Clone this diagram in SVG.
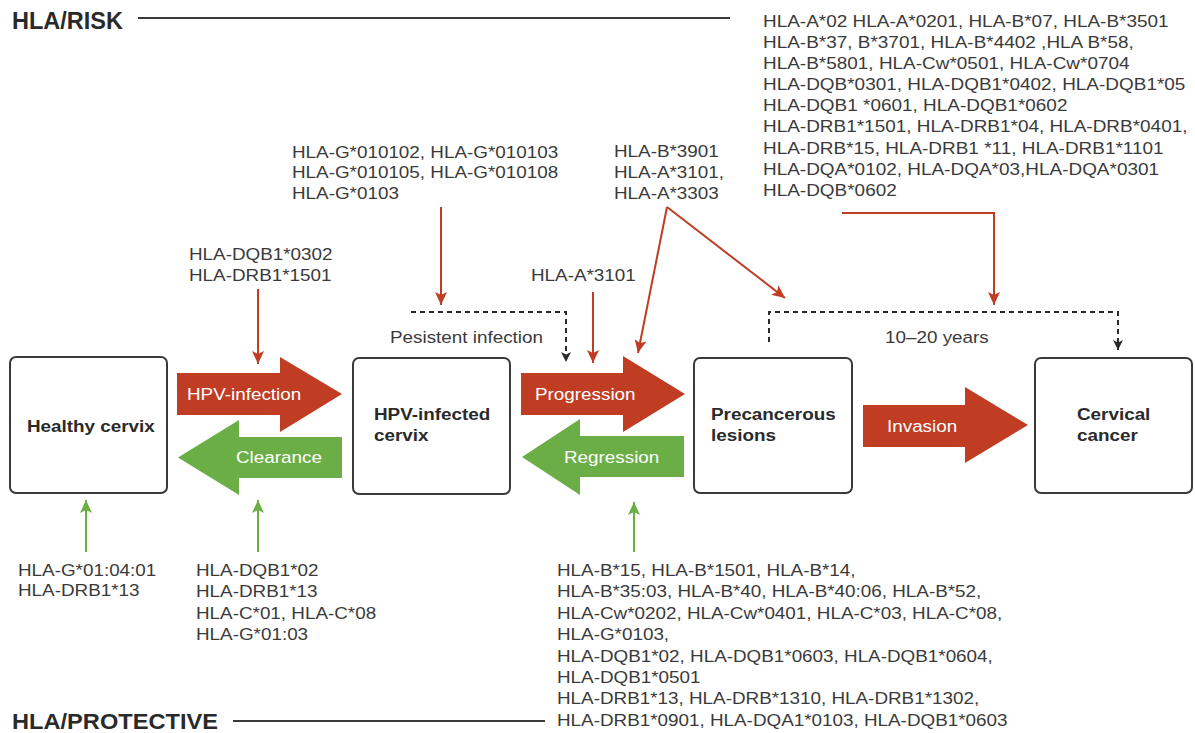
<svg xmlns="http://www.w3.org/2000/svg" width="1195" height="733" viewBox="0 0 1195 733">
<style>
  .t{font-family:"Liberation Sans",Arial,sans-serif;font-size:17px;fill:#3a3a3a;}
  .b{font-family:"Liberation Sans",Arial,sans-serif;font-size:17px;font-weight:bold;fill:#2a2a2a;}
  .w{font-family:"Liberation Sans",Arial,sans-serif;font-size:17px;fill:#ffffff;}
  .h{font-family:"Liberation Sans",Arial,sans-serif;font-weight:bold;fill:#2a2a2a;}
  .box{fill:#ffffff;stroke:#3a3a3a;stroke-width:2;}
  .red{fill:#c03d24;}
  .grn{fill:#6aae45;}
  .rl{fill:none;stroke:#c03d24;stroke-width:2;}
  .gl{fill:none;stroke:#6aae45;stroke-width:2;}
  .dl{fill:none;stroke:#2a2a2a;stroke-width:2;stroke-dasharray:5 4;}
  .rule{stroke:#3a3a3a;stroke-width:2;}
</style>
<defs>
  <marker id="mr" markerUnits="userSpaceOnUse" markerWidth="14" markerHeight="12" refX="13" refY="6" orient="auto">
    <path d="M0,0 L13,6 L0,12 L3,6 z" fill="#c03d24"/>
  </marker>
  <marker id="mg" markerUnits="userSpaceOnUse" markerWidth="14" markerHeight="12" refX="13" refY="6" orient="auto">
    <path d="M0,0 L13,6 L0,12 L3,6 z" fill="#6aae45"/>
  </marker>
  <marker id="mk" markerUnits="userSpaceOnUse" markerWidth="11" markerHeight="10" refX="10" refY="5" orient="auto">
    <path d="M0,0 L10,5 L0,10 L2.5,5 z" fill="#2a2a2a"/>
  </marker>
</defs>
<rect width="1195" height="733" fill="#ffffff"/>

<g id="headers">
  <text class="h" x="12" y="29" font-size="23" textLength="111" lengthAdjust="spacingAndGlyphs">HLA/RISK</text>
  <line class="rule" x1="138" y1="18" x2="730" y2="18"/>
  <text class="h" x="12" y="729" font-size="22" textLength="206" lengthAdjust="spacingAndGlyphs">HLA/PROTECTIVE</text>
  <line class="rule" x1="233" y1="721" x2="545" y2="721"/>
</g>

<g id="node-healthy">
  <rect class="box" x="10" y="357" width="157" height="136" rx="6"/>
  <text class="b" transform="translate(27,432) scale(1.11 1)">Healthy cervix</text>
</g>
<g id="node-hpv">
  <rect class="box" x="353" y="358" width="157" height="136" rx="6"/>
  <text class="b" transform="translate(374,420) scale(1.11 1)"><tspan x="0" y="0">HPV-infected</tspan><tspan x="0" y="21">cervix</tspan></text>
</g>
<g id="node-precancer">
  <rect class="box" x="694" y="358" width="158" height="135" rx="6"/>
  <text class="b" transform="translate(711,420) scale(1.11 1)"><tspan x="0" y="0">Precancerous</tspan><tspan x="0" y="21">lesions</tspan></text>
</g>
<g id="node-cancer">
  <rect class="box" x="1035" y="358" width="157" height="135" rx="6"/>
  <text class="b" transform="translate(1077,420) scale(1.11 1)"><tspan x="0" y="0">Cervical</tspan><tspan x="0" y="21">cancer</tspan></text>
</g>

<g id="transitions">
  <g id="arrow-hpv-infection">
    <polygon class="red" points="177,373 280,373 280,357 342,394 280,432 280,415 177,415"/>
    <text class="w" transform="translate(187,400) scale(1.11 1)">HPV-infection</text>
  </g>
  <g id="arrow-clearance">
    <polygon class="grn" points="342,437 239,437 239,420 178,457.5 239,495 239,478 342,478"/>
    <text class="w" transform="translate(236,463) scale(1.11 1)">Clearance</text>
  </g>
  <g id="arrow-progression">
    <polygon class="red" points="521,373 623,373 623,356 685,394 623,432 623,415 521,415"/>
    <text class="w" transform="translate(535,400) scale(1.11 1)">Progression</text>
  </g>
  <g id="arrow-regression">
    <polygon class="grn" points="684,436 580,436 580,419 522,457 580,495 580,477 684,477"/>
    <text class="w" transform="translate(564,463) scale(1.11 1)">Regression</text>
  </g>
  <g id="arrow-invasion">
    <polygon class="red" points="863,405 965,405 965,387 1028,425 965,463 965,447 863,447"/>
    <text class="w" transform="translate(887,432) scale(1.11 1)">Invasion</text>
  </g>
</g>

<g id="connectors">
  <line class="rl" x1="258" y1="289" x2="258" y2="364" marker-end="url(#mr)"/>
  <line class="rl" x1="441" y1="207" x2="441" y2="305" marker-end="url(#mr)"/>
  <line class="rl" x1="593" y1="292" x2="593" y2="363" marker-end="url(#mr)"/>
  <polyline class="rl" points="667,207 638,353" marker-end="url(#mr)"/>
  <polyline class="rl" points="667,207 785,298" marker-end="url(#mr)"/>
  <polyline class="rl" points="842,213 994,213 994,305" marker-end="url(#mr)"/>
  <polyline class="dl" points="411,312 566,312 566,362" marker-end="url(#mk)"/>
  <polyline class="dl" points="769,342 769,312 1118,312 1118,350" marker-end="url(#mk)"/>
  <line class="gl" x1="86" y1="552" x2="86" y2="500" marker-end="url(#mg)"/>
  <line class="gl" x1="258" y1="552" x2="258" y2="500" marker-end="url(#mg)"/>
  <line class="gl" x1="634" y1="552" x2="634" y2="502" marker-end="url(#mg)"/>
</g>

<g id="labels">
  <text class="t" transform="translate(390,343) scale(1.11 1)">Pesistent infection</text>
  <text class="t" transform="translate(885,343) scale(1.11 1)">10–20 years</text>
</g>

<g id="risk-lists">
  <text id="risk-top" class="t" transform="translate(763,27) scale(1.115 1)">
    <tspan x="0" y="0">HLA-A*02 HLA-A*0201, HLA-B*07, HLA-B*3501</tspan>
    <tspan x="0" y="21.1">HLA-B*37, B*3701, HLA-B*4402 ,HLA B*58,</tspan>
    <tspan x="0" y="42.2">HLA-B*5801, HLA-Cw*0501, HLA-Cw*0704</tspan>
    <tspan x="0" y="63.3">HLA-DQB*0301, HLA-DQB1*0402, HLA-DQB1*05</tspan>
    <tspan x="0" y="84.4">HLA-DQB1 *0601, HLA-DQB1*0602</tspan>
    <tspan x="0" y="105.5">HLA-DRB1*1501, HLA-DRB1*04, HLA-DRB*0401,</tspan>
    <tspan x="0" y="126.6">HLA-DRB*15, HLA-DRB1 *11, HLA-DRB1*1101</tspan>
    <tspan x="0" y="147.7">HLA-DQA*0102, HLA-DQA*03,HLA-DQA*0301</tspan>
    <tspan x="0" y="168.8">HLA-DQB*0602</tspan>
  </text>
  <text id="risk-g" class="t" transform="translate(292,158) scale(1.11 1)">
    <tspan x="0" y="0">HLA-G*010102, HLA-G*010103</tspan>
    <tspan x="0" y="20.5">HLA-G*010105, HLA-G*010108</tspan>
    <tspan x="0" y="41">HLA-G*0103</tspan>
  </text>
  <text id="risk-b3901" class="t" transform="translate(614,157) scale(1.11 1)">
    <tspan x="0" y="0">HLA-B*3901</tspan>
    <tspan x="0" y="21">HLA-A*3101,</tspan>
    <tspan x="0" y="42">HLA-A*3303</tspan>
  </text>
  <text id="risk-dqb0302" class="t" transform="translate(189,260) scale(1.11 1)">
    <tspan x="0" y="0">HLA-DQB1*0302</tspan>
    <tspan x="0" y="21">HLA-DRB1*1501</tspan>
  </text>
  <text id="risk-a3101" class="t" transform="translate(531,281) scale(1.11 1)">HLA-A*3101</text>
</g>

<g id="protective-lists">
  <text id="prot-healthy" class="t" transform="translate(18,576) scale(1.11 1)">
    <tspan x="0" y="0">HLA-G*01:04:01</tspan>
    <tspan x="0" y="20.5">HLA-DRB1*13</tspan>
  </text>
  <text id="prot-clearance" class="t" transform="translate(196,576) scale(1.11 1)">
    <tspan x="0" y="0">HLA-DQB1*02</tspan>
    <tspan x="0" y="21.3">HLA-DRB1*13</tspan>
    <tspan x="0" y="42.6">HLA-C*01, HLA-C*08</tspan>
    <tspan x="0" y="63.9">HLA-G*01:03</tspan>
  </text>
  <text id="prot-regression" class="t" transform="translate(557,576) scale(1.11 1)">
    <tspan x="0" y="0">HLA-B*15, HLA-B*1501, HLA-B*14,</tspan>
    <tspan x="0" y="21.4">HLA-B*35:03, HLA-B*40, HLA-B*40:06, HLA-B*52,</tspan>
    <tspan x="0" y="42.8">HLA-Cw*0202, HLA-Cw*0401, HLA-C*03, HLA-C*08,</tspan>
    <tspan x="0" y="64.2">HLA-G*0103,</tspan>
    <tspan x="0" y="85.6">HLA-DQB1*02, HLA-DQB1*0603, HLA-DQB1*0604,</tspan>
    <tspan x="0" y="107">HLA-DQB1*0501</tspan>
    <tspan x="0" y="128.4">HLA-DRB1*13, HLA-DRB*1310, HLA-DRB1*1302,</tspan>
    <tspan x="0" y="149.8">HLA-DRB1*0901, HLA-DQA1*0103, HLA-DQB1*0603</tspan>
  </text>
</g>
</svg>
